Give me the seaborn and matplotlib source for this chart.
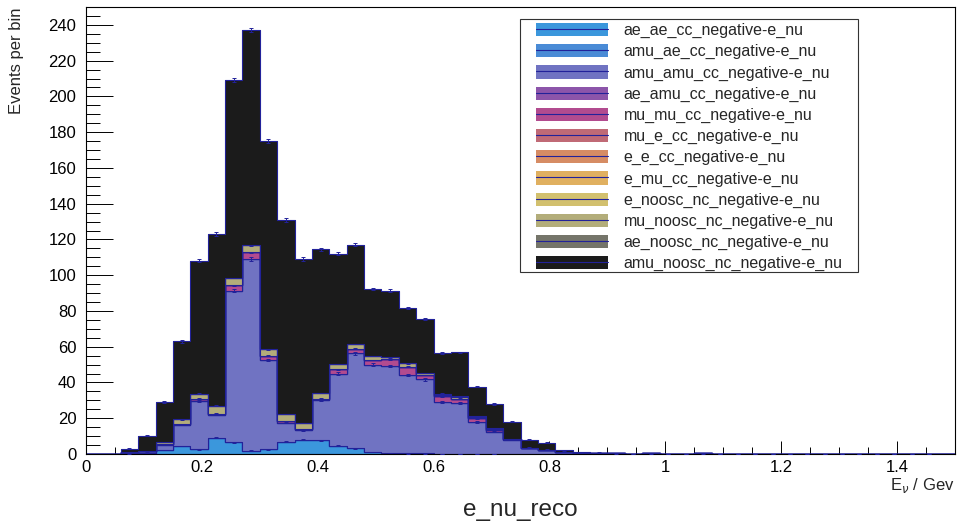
import numpy as np
import pandas as pd
import seaborn as sns
from matplotlib import pyplot as plt
from matplotlib.patches import Patch, Rectangle
from matplotlib.lines import Line2D
from matplotlib.legend_handler import HandlerTuple
from matplotlib.ticker import MultipleLocator


# Histogram binning (50 bins of 0.03 GeV from 0 to 1.5)
bin_width = 0.03
n_bins = 50

# Components, listed from the bottom of the stack to the top
names = [
    'ae_ae_cc_negative-e_nu', 'amu_ae_cc_negative-e_nu', 'amu_amu_cc_negative-e_nu',
    'ae_amu_cc_negative-e_nu', 'mu_mu_cc_negative-e_nu', 'mu_e_cc_negative-e_nu',
    'e_e_cc_negative-e_nu', 'e_mu_cc_negative-e_nu', 'e_noosc_nc_negative-e_nu',
    'mu_noosc_nc_negative-e_nu', 'ae_noosc_nc_negative-e_nu', 'amu_noosc_nc_negative-e_nu',
]
colors = [
    '#3b97dc', '#4a8bd6', '#7073c2', '#8c55aa', '#b24b8f', '#c06a76',
    '#d68c64', '#e0b060', '#d2c06e', '#b3ad7a', '#75756a', '#1b1b1b',
]

# Events per bin for each component
ae_ae_cc = [0, 0, 0.3, 0.8, 2.2, 4.5, 2.6, 9.0, 6.5, 1.9, 2.6, 6.9, 8.0, 7.7, 4.7, 3.2, 1.2, 0.5, 0.3, 0.3,
            0.2, 0.2, 0.1, 0.1, 0, 0, 0, 0, 0, 0, 0, 0, 0, 0, 0, 0, 0, 0, 0, 0,
            0, 0, 0, 0, 0, 0, 0, 0, 0, 0]
amu_ae_cc = [0] * 50
amu_amu_cc = [0, 0, 0.7, 0.8, 3.0, 11.8, 27.2, 13.0, 84.9, 107.1, 49.9, 10.5, 5.3, 22.3, 40.3, 53.1, 48.8, 48.7, 44.0, 41.4,
              29.1, 28.1, 17.7, 12.4, 8.0, 3.5, 2.4, 1.2, 0.8, 0.6, 0.3, 0.2, 0.3, 0.2, 0.2, 0.3, 0.1, 0.2, 0.2, 0.1,
              0.2, 0.1, 0.2, 0.1, 0.1, 0.2, 0.1, 0.1, 0.1, 0]
ae_amu_cc = [0] * 50
mu_mu_cc = [0, 0, 0, 0, 0.3, 0.5, 1.2, 0.6, 3.0, 3.7, 2.5, 1.1, 0.5, 1.0, 2.4, 2.6, 2.5, 3.7, 4.6, 2.6,
            3.0, 2.5, 2.2, 1.1, 0.2, 0, 0, 0, 0, 0, 0, 0, 0, 0, 0, 0, 0, 0, 0, 0,
            0, 0, 0, 0, 0, 0, 0, 0, 0, 0]
mu_e_cc = [0] * 50
e_e_cc = [0] * 50
e_mu_cc = [0] * 50
e_noosc_nc = [0] * 50
mu_noosc_nc = [0, 0, 0, 0.3, 1.1, 2.5, 2.8, 4.4, 4.1, 4.1, 3.5, 3.8, 3.6, 3.2, 2.9, 2.6, 2.3, 1.1, 1.8, 1.1,
               0.6, 0.8, 0.5, 0.4, 0.2, 0, 0, 0, 0, 0, 0, 0, 0, 0, 0, 0, 0, 0, 0, 0,
               0, 0, 0, 0, 0, 0, 0, 0, 0, 0]
ae_noosc_nc = [0, 0, 0, 0, 0, 0, 0, 0, 0, 0, 0, 0, 0, 0, 0, 0, 0, 0, 0, 0,
               0.9, 0.7, 0.6, 0.4, 0, 0, 0, 0, 0, 0, 0, 0, 0, 0, 0, 0, 0, 0, 0, 0,
               0, 0, 0, 0, 0, 0, 0, 0, 0, 0]
amu_noosc_nc = [0, 0, 2.0, 8.4, 22.4, 43.7, 74.2, 96.0, 110.5, 120.2, 116.5, 108.7, 91.6, 80.3, 61.7, 55.5, 37.6, 37.4, 31.0, 30.1,
                22.5, 24.5, 16.5, 13.5, 9.6, 4.4, 4.0, 0.8, 0.5, 0.2, 0, 0, 0, 0, 0, 0, 0, 0, 0, 0,
                0, 0, 0, 0, 0, 0, 0, 0, 0, 0]

components = [ae_ae_cc, amu_ae_cc, amu_amu_cc, ae_amu_cc, mu_mu_cc, mu_e_cc,
              e_e_cc, e_mu_cc, e_noosc_nc, mu_noosc_nc, ae_noosc_nc, amu_noosc_nc]

edges = np.arange(n_bins + 1) * bin_width
centers = edges[:-1] + bin_width / 2

# Long table: one weighted entry per bin and component
df = pd.concat([pd.DataFrame({'x': centers, 'w': np.array(vals, dtype=float), 'comp': name})
                for name, vals in zip(names, components)], ignore_index=True)

line_col = '#22229a'

sns.set_style('ticks')
plt.rcParams['font.family'] = ['Liberation Sans', 'DejaVu Sans']

W, H = 957, 526
fig = plt.figure(figsize=(W / 100, H / 100), dpi=100)
ax = fig.add_axes([86 / W, 1 - 454 / H, 869 / W, 447 / H])

# seaborn stacks the last hue level at the bottom
sns.histplot(data=df, x='x', weights='w', hue='comp', hue_order=names[::-1],
             palette=dict(zip(names, colors)), multiple='stack', bins=list(edges),
             element='step', alpha=1, edgecolor=line_col, linewidth=0.8,
             legend=False, ax=ax)

# Error bars on top of each stacked layer
tops = np.zeros(n_bins)
for vals in components:
    vals = np.array(vals, dtype=float)
    tops = tops + vals
    m = vals > 0
    ax.errorbar(centers[m], tops[m], yerr=0.1 * np.sqrt(vals[m]), fmt='none',
                ecolor=line_col, elinewidth=0.7, capsize=1.3, capthick=0.7, zorder=5)

ax.set_xlim(0, 1.5)
ax.set_ylim(0, 250)
ax.set_xlabel('')
ax.set_ylabel('')
ax.xaxis.set_major_locator(MultipleLocator(0.2))
ax.xaxis.set_minor_locator(MultipleLocator(0.05))
ax.yaxis.set_major_locator(MultipleLocator(20))
ax.yaxis.set_minor_locator(MultipleLocator(5))
ax.xaxis.set_major_formatter(plt.FuncFormatter(lambda v, p: f'{v:g}'))
ax.tick_params(axis='both', which='both', direction='in', labelsize=12, colors='black', width=0.7)
ax.tick_params(axis='y', which='major', length=19.4, pad=7)
ax.tick_params(axis='y', which='minor', length=10)
ax.tick_params(axis='x', which='major', length=9.7, pad=4)
ax.tick_params(axis='x', which='minor', length=4.8)
for s in ax.spines.values():
    s.set_linewidth(0.8)
    s.set_color('black')

# Legend: filled box with the histogram line through it, ROOT-like frame drawn by hand
handles = [(Patch(facecolor=c, edgecolor='none'), Line2D([], [], color=line_col, lw=0.8)) for c in colors]
leg = ax.legend(handles, names, handler_map={tuple: HandlerTuple(ndivide=1, pad=0)},
                loc='upper left', bbox_to_anchor=((536 - 86) / 869, (454 - 23) / 447), borderaxespad=0,
                fontsize=11.5, handlelength=4.5, handleheight=0.9, handletextpad=1.0,
                labelspacing=0.37, borderpad=0, frameon=False)
leg.set_zorder(10)
fig.patches.append(Rectangle((520 / W, 1 - 272 / H), 338 / W, 253 / H, transform=fig.transFigure,
                             facecolor='white', edgecolor='#333333', linewidth=0.8, zorder=9))
fig.patches[-1].set_figure(fig)
leg.remove()
fig.legends.append(leg)
leg.set_figure(fig)

fig.text(17 / W, 1 - 8 / H, 'Events per bin', rotation=90, ha='center', va='top', fontsize=12)
fig.text(955 / W, 1 - 490 / H, r'E$_{\nu}$ / Gev', ha='right', va='baseline', fontsize=12)
fig.text(520 / W, 1 - 516 / H, 'e_nu_reco', ha='center', va='baseline', fontsize=17.5)

fig.savefig('out.png', dpi=100)
plt.close()
